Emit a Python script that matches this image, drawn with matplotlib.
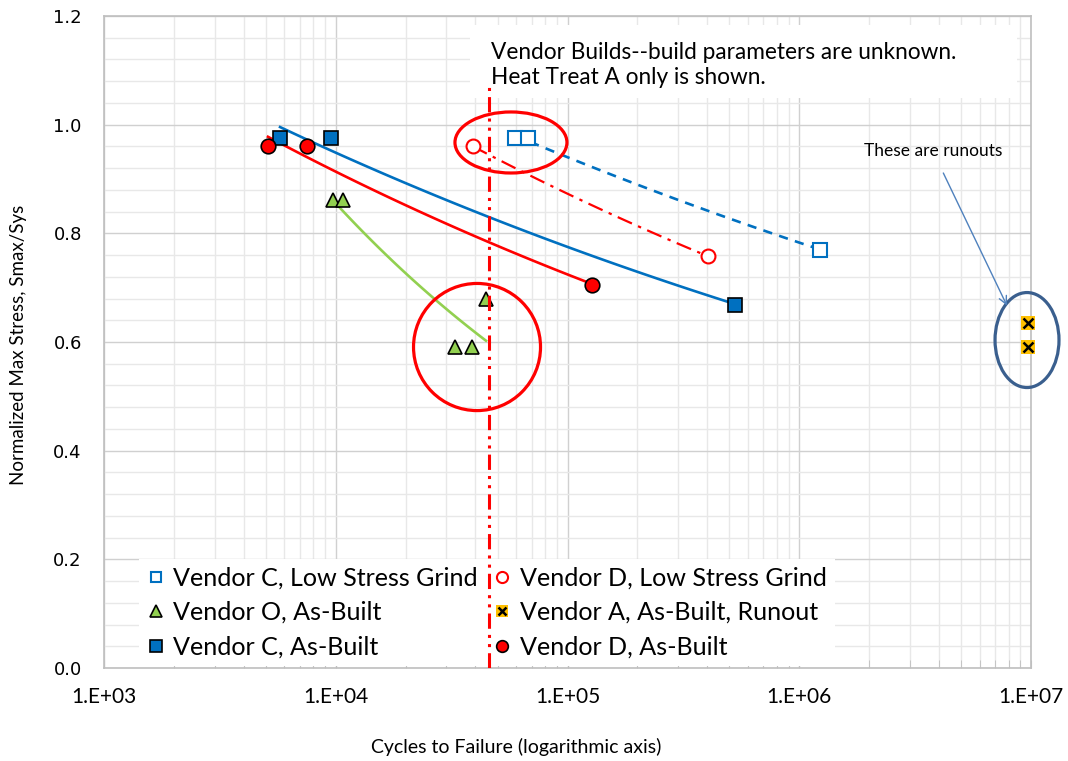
import numpy as np
import matplotlib
matplotlib.use("Agg")
import matplotlib.pyplot as plt
from matplotlib.patches import Ellipse, Rectangle
from matplotlib.ticker import FixedLocator, LogLocator, NullFormatter, FuncFormatter
from matplotlib.legend_handler import HandlerTuple

# ---------------- data ----------------
c_lsg_cycles = [5.93e4, 6.76e4, 1.23e6]
c_lsg_stress = [0.975, 0.975, 0.770]

d_lsg_cycles = [3.91e4, 4.03e5]
d_lsg_stress = [0.960, 0.758]

o_ab_cycles = [9.73e3, 1.07e4, 3.27e4, 3.87e4, 4.45e4]
o_ab_stress = [0.862, 0.862, 0.590, 0.590, 0.680]

c_ab_cycles = [5.75e3, 9.55e3, 5.28e5]
c_ab_stress = [0.975, 0.975, 0.668]

d_ab_cycles = [5.10e3, 7.51e3, 1.276e5]
d_ab_stress = [0.960, 0.960, 0.705]

a_runout_cycles = [9.7e6, 9.7e6]
a_runout_stress = [0.635, 0.590]

threshold_cycles = 4.6e4
threshold_top = 1.073

x_tick_values = [1e3, 1e4, 1e5, 1e6, 1e7]
x_tick_labels = ["1.E+03", "1.E+04", "1.E+05", "1.E+06", "1.E+07"]
y_tick_values = [0.0, 0.2, 0.4, 0.6, 0.8, 1.0, 1.2]

legend_labels = ["Vendor C, Low Stress Grind", "Vendor O, As-Built", "Vendor C, As-Built",
                 "Vendor D, Low Stress Grind", "Vendor A, As-Built, Runout", "Vendor D, As-Built"]

BLUE = "#0070C0"
RED = "#FF0000"
GREEN = "#92D050"
GOLD = "#FFC000"
FONT = "Lato"


def power_trend(x, y):
    lx, ly = np.log10(x), np.log10(y)
    b, a = np.polyfit(lx, ly, 1)
    xs = np.logspace(lx.min(), lx.max(), 100)
    return xs, 10 ** (a + b * np.log10(xs))


fig = plt.figure(figsize=(10.68, 7.61), dpi=100)
ax = fig.add_axes([104 / 1068, 1 - 668 / 761, 927 / 1068, 652 / 761])
ax.set_xscale("log")
ax.set_xlim(1e3, 1e7)
ax.set_ylim(0, 1.2)

# grid
ax.xaxis.set_major_locator(FixedLocator(x_tick_values))
ax.xaxis.set_minor_locator(LogLocator(base=10, subs=np.arange(2, 10)))
ax.xaxis.set_minor_formatter(NullFormatter())
ax.set_xticklabels(x_tick_labels)
ax.yaxis.set_major_locator(FixedLocator(y_tick_values))
ax.yaxis.set_minor_locator(FixedLocator(np.arange(0, 1.21, 0.04)))
ax.yaxis.set_major_formatter(FuncFormatter(lambda v, p: f"{v:.1f}"))
ax.grid(True, which="major", color="#D0D0D0", lw=1.0, zorder=0)
ax.grid(True, which="minor", color="#E8E8E8", lw=1.0, zorder=0)
ax.set_axisbelow(True)
for s in ax.spines.values():
    s.set_color("#BFBFBF")
    s.set_linewidth(1.2)
ax.tick_params(axis="x", which="both", direction="in", length=6, color="#BFBFBF", pad=14,
               labelsize=15)
ax.tick_params(axis="y", which="both", length=0, pad=16, labelsize=13)
for t in ax.get_xticklabels():
    t.set_fontfamily(FONT)
for t in ax.get_yticklabels():
    t.set_fontfamily("DejaVu Sans")

ax.set_xlabel("Cycles to Failure (logarithmic axis)", fontsize=14, family=FONT)
ax.xaxis.set_label_coords(0.445, -0.108)
ax.set_ylabel("Normalized Max Stress, Smax/Sys", fontsize=13.5, family=FONT)
ax.yaxis.set_label_coords(-0.083, 0.495)

# trend lines
xs, ys = power_trend(c_lsg_cycles, c_lsg_stress)
ax.plot(xs, ys, color=BLUE, lw=1.9, ls=(0, (3.5, 2.8)), zorder=3)
xs, ys = power_trend(d_lsg_cycles, d_lsg_stress)
ax.plot(xs, ys, color=RED, lw=1.6, ls=(0, (7, 3, 1.5, 3)), zorder=3)
xs, ys = power_trend(o_ab_cycles, o_ab_stress)
ax.plot(xs, ys, color=GREEN, lw=1.9, zorder=3)
xs, ys = power_trend(c_ab_cycles, c_ab_stress)
ax.plot(xs, ys, color=BLUE, lw=1.9, zorder=3)
xs, ys = power_trend(d_ab_cycles, d_ab_stress)
ax.plot(xs, ys, color=RED, lw=1.9, zorder=3)

# markers
h_clsg, = ax.plot(c_lsg_cycles, c_lsg_stress, ls="none", marker="s", ms=9.5, mfc="white",
                  mec=BLUE, mew=1.5, zorder=4)
h_dlsg, = ax.plot(d_lsg_cycles, d_lsg_stress, ls="none", marker="o", ms=10, mfc="white",
                  mec=RED, mew=1.5, zorder=4)
h_oab, = ax.plot(o_ab_cycles, o_ab_stress, ls="none", marker="^", ms=10, mfc=GREEN,
                 mec="black", mew=1.2, zorder=4)
h_cab, = ax.plot(c_ab_cycles, c_ab_stress, ls="none", marker="s", ms=10, mfc=BLUE,
                 mec="black", mew=1.2, zorder=4)
h_dab, = ax.plot(d_ab_cycles, d_ab_stress, ls="none", marker="o", ms=10.5, mfc=RED,
                 mec="black", mew=1.2, zorder=4)
h_a1, = ax.plot(a_runout_cycles, a_runout_stress, ls="none", marker="s", ms=10.5, mfc=GOLD,
                mec=GOLD, mew=0, zorder=4, clip_on=False)
h_a2, = ax.plot(a_runout_cycles, a_runout_stress, ls="none", marker="x", ms=7.5, mec="black",
                mew=1.8, zorder=4, clip_on=False)

# text box
ax.add_patch(Rectangle((0.3948, 0.874), 0.59, 0.112, transform=ax.transAxes,
                       facecolor="white", edgecolor="none", zorder=2))
ax.text(0.418, 0.925, "Vendor Builds--build parameters are unknown.\nHeat Treat A only is shown.",
        transform=ax.transAxes, fontsize=16.3, family=FONT, va="center", ha="left",
        linespacing=1.25, zorder=3)

# vertical threshold line
ax.plot([threshold_cycles, threshold_cycles], [0, threshold_top], color=RED, lw=2.2,
        ls=(0, (5, 2, 1, 2, 1, 2)), zorder=7)

# ellipses
ax.add_patch(Ellipse((0.439, 0.806), 0.1208, 0.0936, transform=ax.transAxes,
                     fill=False, ec=RED, lw=2.3, zorder=6))
ax.add_patch(Ellipse((0.4024, 0.4923), 0.137, 0.195, transform=ax.transAxes,
                     fill=False, ec=RED, lw=2.3, zorder=6))
ax.add_patch(Ellipse((0.9957, 0.503), 0.069, 0.1457, transform=ax.transAxes,
                     fill=False, ec="#3A5F8E", lw=2.3, zorder=6, clip_on=False))

# runout annotation
ax.annotate("These are runouts", xy=(0.974, 0.556), xytext=(0.894, 0.793),
            xycoords="axes fraction", textcoords="axes fraction", fontsize=12.5,
            family=FONT, ha="center", va="center",
            arrowprops=dict(arrowstyle="->", color="#4F81BD", lw=1.0,
                            shrinkA=9, shrinkB=0, mutation_scale=14), zorder=6)

# legend
handles = [h_clsg, h_oab, h_cab, h_dlsg, (h_a1, h_a2), h_dab]
leg = ax.legend(handles, legend_labels, ncol=2, loc="lower left",
                bbox_to_anchor=(0.038, 0.003), frameon=True, fancybox=False,
                edgecolor="none", facecolor="white", framealpha=1,
                prop={"family": FONT, "size": 18.1}, handlelength=0.7, handletextpad=0.36,
                columnspacing=0.62, labelspacing=0.46, borderpad=0.3, markerscale=0.8,
                borderaxespad=0.0, handler_map={tuple: HandlerTuple(ndivide=1, pad=0)})
leg.set_zorder(5)

fig.savefig("out.png", dpi=100)
